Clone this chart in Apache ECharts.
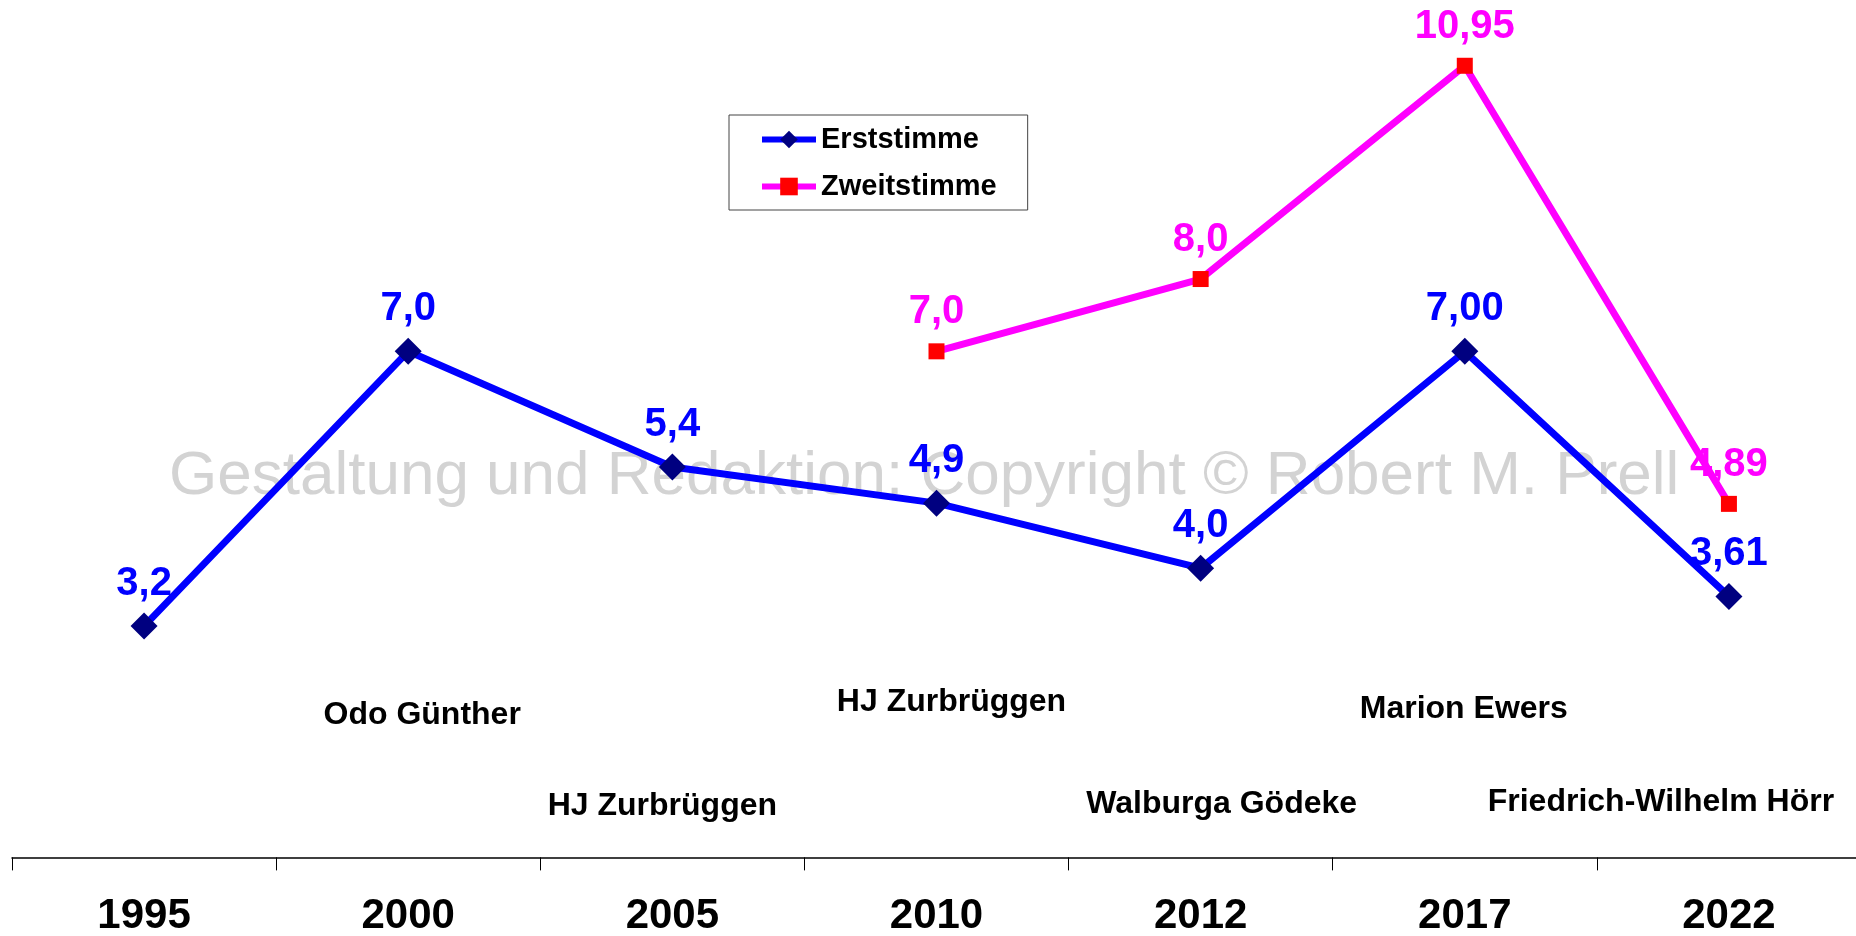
<!DOCTYPE html>
<html>
<head>
<meta charset="utf-8">
<title>Erststimme / Zweitstimme</title>
<script src="https://cdn.jsdelivr.net/npm/echarts@6/dist/echarts.min.js"></script>
<style>
  html, body { margin: 0; padding: 0; background: #fff; }
  #chart { width: 1856px; height: 936px; }
</style>
</head>
<body>
<div id="chart"></div>
<script>
// Wahljahre (Kategorien)
const years = ['1995', '2000', '2005', '2010', '2012', '2017', '2022']
// Erststimme in %
const erstValues = [3.2, 7.0, 5.4, 4.9, 4.0, 7.00, 3.61]
const erstDecimals = [1, 1, 1, 1, 1, 2, 2]
// Zweitstimme in % (erst ab 2010)
const zweitValues = [null, null, null, 7.0, 8.0, 10.95, 4.89]
const zweitDecimals = [1, 1, 1, 1, 1, 2, 2]
// Kandidaten je Wahl (ab 2000)
const candidates = ['', 'Odo Günther', 'HJ Zurbrüggen', 'HJ Zurbrüggen', 'Walburga Gödeke', 'Marion Ewers', 'Friedrich-Wilhelm Hörr']

const FONT = "'Liberation Sans', Arial, sans-serif"

function fmt(decimals) {
  return (p) => (p.value == null ? '' : Number(p.value).toFixed(decimals[p.dataIndex]).replace('.', ','))
}

// Namen abwechselnd oben/unten, mit kleinen Verschiebungen wie im Original
const nameShift = [[0, 0], [14, 5], [-10, 1], [15, -8], [21, -1], [-1, -1], [-68, -3]]
const nameData = []
candidates.forEach((n, i) => {
  if (!n) return
  nameData.push({
    value: [i, i % 2 ? 2.04 : 0.725],
    name: n,
    label: { offset: nameShift[i] }
  })
})

const chart = echarts.init(document.getElementById('chart'))
chart.setOption({
  animation: false,
  backgroundColor: '#fff',
  textStyle: { fontFamily: FONT },
  graphic: [{
    type: 'text', left: 169, top: 446, z: -10, silent: true,
    style: { text: 'Gestaltung und Redaktion: Copyright © Robert M. Prell', fill: '#d3d3d3', font: `62px ${FONT}` }
  }],
  grid: { left: 12, right: -5, top: 26, bottom: 78.6, outerBoundsMode: 'none', containLabel: false },
  legend: {
    data: ['Erststimme', 'Zweitstimme'],
    orient: 'vertical',
    left: 729, top: 115,
    padding: [10, 31, 9, 30],
    itemGap: 18,
    itemWidth: 54, itemHeight: 22,
    backgroundColor: '#fff',
    borderColor: '#444', borderWidth: 1, borderRadius: 0,
    lineStyle: { width: 6 },
    textStyle: { color: '#000', fontSize: 29, fontWeight: 'bold', fontFamily: FONT }
  },
  xAxis: {
    type: 'category',
    data: years,
    boundaryGap: true,
    axisLine: { lineStyle: { color: '#000', width: 1.5 } },
    axisTick: { show: true, length: 13, interval: 0, lineStyle: { color: '#000', width: 1 } },
    axisLabel: { interval: 0, margin: 38, color: '#000', fontSize: 42, fontWeight: 'bold', fontFamily: FONT },
    splitLine: { show: false }
  },
  yAxis: { type: 'value', min: 0, max: 11.5, show: false, splitLine: { show: false } },
  series: [
    {
      name: 'Zweitstimme',
      type: 'line',
      data: zweitValues,
      symbol: 'rect', symbolSize: 16,
      lineStyle: { color: '#ff00ff', width: 7 },
      itemStyle: { color: '#ff0000' },
      label: { show: true, position: 'top', distance: 11, formatter: fmt(zweitDecimals), color: '#ff00ff', fontSize: 40, fontWeight: 'bold', fontFamily: FONT },
      z: 3
    },
    {
      name: 'Erststimme',
      type: 'line',
      data: erstValues,
      symbol: 'diamond', symbolSize: 27,
      lineStyle: { color: '#0000ff', width: 7 },
      itemStyle: { color: '#000080' },
      label: { show: true, position: 'top', distance: 9, formatter: fmt(erstDecimals), color: '#0000ff', fontSize: 40, fontWeight: 'bold', fontFamily: FONT },
      z: 4
    },
    {
      name: 'Kandidaten',
      type: 'scatter',
      data: nameData,
      symbolSize: 0,
      silent: true,
      itemStyle: { opacity: 1 },
      label: { show: true, position: 'inside', formatter: (p) => p.name, color: '#000', fontSize: 32, fontWeight: 'bold', fontFamily: FONT },
      z: 2
    }
  ]
})
</script>
</body>
</html>
